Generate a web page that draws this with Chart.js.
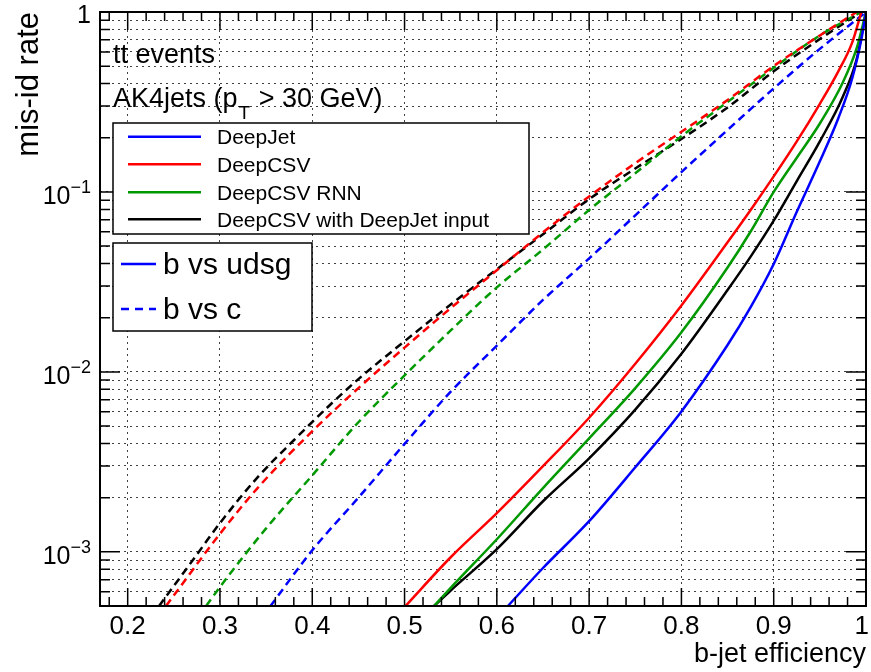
<!DOCTYPE html>
<html>
<head>
<meta charset="utf-8">
<script src="https://cdn.jsdelivr.net/npm/chart.js@4"></script>
<style>
  html, body { margin: 0; padding: 0; background: #fff; }
  #wrap { width: 871px; height: 672px; position: relative; }
</style>
</head>
<body>
<div id="wrap"><canvas id="chartRoc"></canvas></div>
<script>
// [b-jet efficiency, mis-id rate]
// b vs udsg
const deepJetUdsg = [[0.612, 5.0e-4], [0.65, 8.13e-4], [0.7, 1.48e-3], [0.75, 2.95e-3], [0.8, 6.03e-3], [0.85, 1.41e-2], [0.875, 2.29e-2], [0.9, 3.98e-2], [0.925, 7.76e-2], [0.95, 0.148], [0.97, 0.257], [0.985, 0.427], [0.995, 0.708], [1.0, 1.0]];
const deepCsvUdsg = [[0.501, 5.0e-4], [0.55, 9.33e-4], [0.6, 1.64e-3], [0.65, 2.99e-3], [0.7, 5.56e-3], [0.75, 1.11e-2], [0.8, 2.34e-2], [0.85, 5.25e-2], [0.875, 7.94e-2], [0.9, 0.122], [0.925, 0.191], [0.95, 0.309], [0.97, 0.468], [0.985, 0.676], [0.995, 1.0]];
const rnnUdsg = [[0.532, 5.0e-4], [0.55, 6.31e-4], [0.6, 1.175e-3], [0.65, 2.26e-3], [0.7, 4.27e-3], [0.75, 8.13e-3], [0.8, 1.66e-2], [0.85, 3.8e-2], [0.875, 6.03e-2], [0.9, 0.1], [0.925, 0.155], [0.95, 0.24], [0.975, 0.407], [0.99, 0.631], [1.0, 1.0]];
const csvDjInUdsg = [[0.532, 5.0e-4], [0.55, 6.1e-4], [0.6, 1.035e-3], [0.65, 1.91e-3], [0.7, 3.31e-3], [0.75, 6.17e-3], [0.8, 1.26e-2], [0.85, 2.85e-2], [0.875, 4.37e-2], [0.9, 6.92e-2], [0.925, 0.115], [0.95, 0.191], [0.975, 0.339], [0.99, 0.55], [1.0, 1.0]];
// b vs c
const deepJetC = [[0.3547, 5.0e-4], [0.4, 1.02e-3], [0.45, 2.0e-3], [0.5, 3.98e-3], [0.55, 7.76e-3], [0.6, 1.4e-2], [0.65, 2.51e-2], [0.7, 4.27e-2], [0.75, 7.41e-2], [0.8, 0.129], [0.85, 0.221], [0.9, 0.376], [0.95, 0.624], [1.0, 1.0]];
const deepCsvC = [[0.2415, 5.0e-4], [0.3, 1.26e-3], [0.34, 2.24e-3], [0.4, 4.68e-3], [0.45, 8.13e-3], [0.5, 1.365e-2], [0.55, 2.26e-2], [0.6, 3.67e-2], [0.65, 5.96e-2], [0.7, 9.44e-2], [0.75, 0.1445], [0.8, 0.216], [0.85, 0.324], [0.9, 0.501], [0.95, 0.741], [0.99, 1.0]];
const rnnC = [[0.285, 5.0e-4], [0.3, 6.38e-4], [0.35, 1.35e-3], [0.4, 2.66e-3], [0.45, 5.25e-3], [0.5, 9.55e-3], [0.55, 1.7e-2], [0.6, 2.95e-2], [0.65, 4.79e-2], [0.7, 7.94e-2], [0.75, 0.127], [0.8, 0.204], [0.85, 0.316], [0.9, 0.49], [0.95, 0.741], [0.995, 1.0]];
const csvDjInC = [[0.234, 5.0e-4], [0.25, 6.46e-4], [0.27, 8.91e-4], [0.3, 1.445e-3], [0.34, 2.57e-3], [0.38, 4.17e-3], [0.42, 6.61e-3], [0.45, 9.12e-3], [0.5, 1.48e-2], [0.55, 2.37e-2], [0.6, 3.72e-2], [0.65, 5.82e-2], [0.7, 9.12e-2], [0.75, 0.135], [0.8, 0.197], [0.85, 0.295], [0.9, 0.468], [0.95, 0.708], [0.995, 1.0]];

const taggers = ["DeepJet", "DeepCSV", "DeepCSV RNN", "DeepCSV with DeepJet input"];
const colors = ["#0000ff", "#ff0000", "#009900", "#000000"];
const xTickValues = [0.2, 0.3, 0.4, 0.5, 0.6, 0.7, 0.8, 0.9, 1.0];
const xTickLabels = ["0.2", "0.3", "0.4", "0.5", "0.6", "0.7", "0.8", "0.9", "1"];
const yDecades = [1e-3, 1e-2, 1e-1, 1];
const yExponents = [-3, -2, -1, 0];

const FONT = '"Liberation Sans", Arial, Helvetica, sans-serif';

// minor grid values on the log axis: 1..9 of each decade, from 5e-4 up to 1
const yGrid = [];
for (let e = -4; e <= 0; e++) {
  for (let m = 1; m <= 9; m++) {
    const v = m * Math.pow(10, e);
    if (v >= 5e-4 - 1e-12 && v <= 1 + 1e-12) yGrid.push(v);
  }
}

const toXY = (arr) => arr.map((p) => ({ x: p[0], y: p[1] }));

function line(label, pts, color, dashed) {
  return {
    label: label,
    data: toXY(pts),
    borderColor: color,
    backgroundColor: color,
    borderWidth: 2.5,
    borderDash: dashed ? [8, 5] : [],
    pointRadius: 0,
    fill: false,
    cubicInterpolationMode: "monotone",
  };
}

const datasets = [
  line(taggers[0], deepJetUdsg, colors[0], false),
  line(taggers[1], deepCsvUdsg, colors[1], false),
  line(taggers[2], rnnUdsg, colors[2], false),
  line(taggers[3], csvDjInUdsg, colors[3], false),
  line(taggers[0] + " (b vs c)", deepJetC, colors[0], true),
  line(taggers[1] + " (b vs c)", deepCsvC, colors[1], true),
  line(taggers[2] + " (b vs c)", rnnC, colors[2], true),
  line(taggers[3] + " (b vs c)", csvDjInC, colors[3], true),
];

function txt(ctx, s, x, y, size, align) {
  ctx.font = size + "px " + FONT;
  ctx.textAlign = align || "left";
  ctx.textBaseline = "alphabetic";
  ctx.fillText(s, x, y);
  return ctx.measureText(s).width;
}

const rootStyle = {
  id: "rootStyle",
  afterDraw(chart) {
    const { ctx, chartArea: a, scales } = chart;
    const xs = scales.x, ys = scales.y;
    ctx.save();
    ctx.fillStyle = "#000";
    ctx.strokeStyle = "#000";

    // frame
    ctx.lineWidth = 2;
    ctx.strokeRect(a.left, a.top, a.right - a.left, a.bottom - a.top);

    // x ticks, inside the frame, bottom and top
    ctx.lineWidth = 1.5;
    ctx.beginPath();
    for (let i = 9; i <= 50; i++) {
      const px = xs.getPixelForValue(i / 50);
      if (px < a.left) continue;
      const len = i % 5 === 0 ? 18 : 9;
      ctx.moveTo(px, a.bottom); ctx.lineTo(px, a.bottom - len);
      ctx.moveTo(px, a.top); ctx.lineTo(px, a.top + len);
    }
    // y ticks, left and right
    yGrid.forEach((v) => {
      const py = ys.getPixelForValue(v);
      const major = yDecades.some((d) => Math.abs(d - v) / d < 1e-6);
      const len = major ? 20 : 10;
      ctx.moveTo(a.left, py); ctx.lineTo(a.left + len, py);
      ctx.moveTo(a.right, py); ctx.lineTo(a.right - len, py);
    });
    ctx.stroke();

    // x tick labels
    xTickValues.forEach((v, i) => {
      let px = xs.getPixelForValue(v);
      ctx.font = "26px " + FONT;
      const w = ctx.measureText(xTickLabels[i]).width;
      px = Math.min(px, chart.width - w / 2 - 2);
      txt(ctx, xTickLabels[i], px, a.bottom + 28, 26, "center");
    });

    // y tick labels (10^n)
    yDecades.forEach((v, i) => {
      const py = ys.getPixelForValue(v);
      const e = yExponents[i];
      if (e === 0) {
        txt(ctx, "1", 91, py + 11, 25, "right");
      } else {
        const w = txt(ctx, "\u2212" + (-e), 91, py + 1, 18, "right");
        txt(ctx, "10", 91 - w, py + 12, 25, "right");
      }
    });

    // axis titles
    txt(ctx, "b-jet efficiency", 866, 662, 27, "right");
    ctx.save();
    ctx.translate(38, 12);
    ctx.rotate(-Math.PI / 2);
    txt(ctx, "mis-id rate", 0, 0, 31, "right");
    ctx.restore();

    // annotations
    txt(ctx, "tt events", 113, 63, 27);
    const w = txt(ctx, "AK4jets (p", 113, 107, 27);
    const w2 = txt(ctx, "T", 113 + w + 1, 119, 19);
    txt(ctx, " > 30 GeV)", 113 + w + w2 + 2, 107, 27);

    // legend with the taggers
    const ds = chart.data.datasets;
    ctx.fillStyle = "#fff";
    ctx.fillRect(113, 123, 416, 111);
    ctx.lineWidth = 1.5;
    ctx.strokeStyle = "#000";
    ctx.strokeRect(113, 123, 416, 111);
    const rows = [136.7, 164.3, 192.3, 219.3];
    rows.forEach((ry, i) => {
      ctx.strokeStyle = ds[i].borderColor;
      ctx.lineWidth = 2.5;
      ctx.setLineDash([]);
      ctx.beginPath(); ctx.moveTo(128, ry); ctx.lineTo(201, ry); ctx.stroke();
      ctx.fillStyle = "#000";
      txt(ctx, ds[i].label, 217, ry + 7.5, 21);
    });

    // legend with the line styles
    ctx.fillStyle = "#fff";
    ctx.fillRect(113, 243, 199, 88);
    ctx.lineWidth = 1.5;
    ctx.strokeStyle = "#000";
    ctx.strokeRect(113, 243, 199, 88);
    const styles = [["b vs udsg", [], 264], ["b vs c", [8, 6], 309]];
    styles.forEach((s) => {
      ctx.strokeStyle = colors[0];
      ctx.lineWidth = 2.5;
      ctx.setLineDash(s[1]);
      ctx.beginPath(); ctx.moveTo(121, s[2]); ctx.lineTo(156, s[2]); ctx.stroke();
      ctx.setLineDash([]);
      ctx.fillStyle = "#000";
      txt(ctx, s[0], 163, s[2] + 10, 30);
    });

    ctx.restore();
  },
};

const gridStyle = {
  display: true,
  color: "rgba(0,0,0,0.75)",
  lineWidth: 1,
  drawTicks: false,
};

new Chart(document.getElementById("chartRoc"), {
  type: "line",
  data: { datasets: datasets },
  options: {
    responsive: true,
    maintainAspectRatio: false,
    animation: false,
    layout: { padding: { left: 0, right: 5, top: 12, bottom: 0 } },
    scales: {
      x: {
        type: "linear",
        min: 0.17,
        max: 1.0,
        grid: gridStyle,
        border: { display: false, dash: [2, 4] },
        ticks: { display: false },
        afterBuildTicks: (s) => { s.ticks = xTickValues.map((v) => ({ value: v })); },
        afterFit: (s) => { s.height = 66; },
      },
      y: {
        type: "logarithmic",
        min: 5e-4,
        max: 1,
        grid: gridStyle,
        border: { display: false, dash: [2, 4] },
        ticks: { display: false },
        afterBuildTicks: (s) => { s.ticks = yGrid.map((v) => ({ value: v })); },
        afterFit: (s) => { s.width = 100; },
      },
    },
    plugins: {
      legend: { display: false },
      tooltip: { enabled: false },
    },
  },
  plugins: [rootStyle],
});
</script>
</body>
</html>
